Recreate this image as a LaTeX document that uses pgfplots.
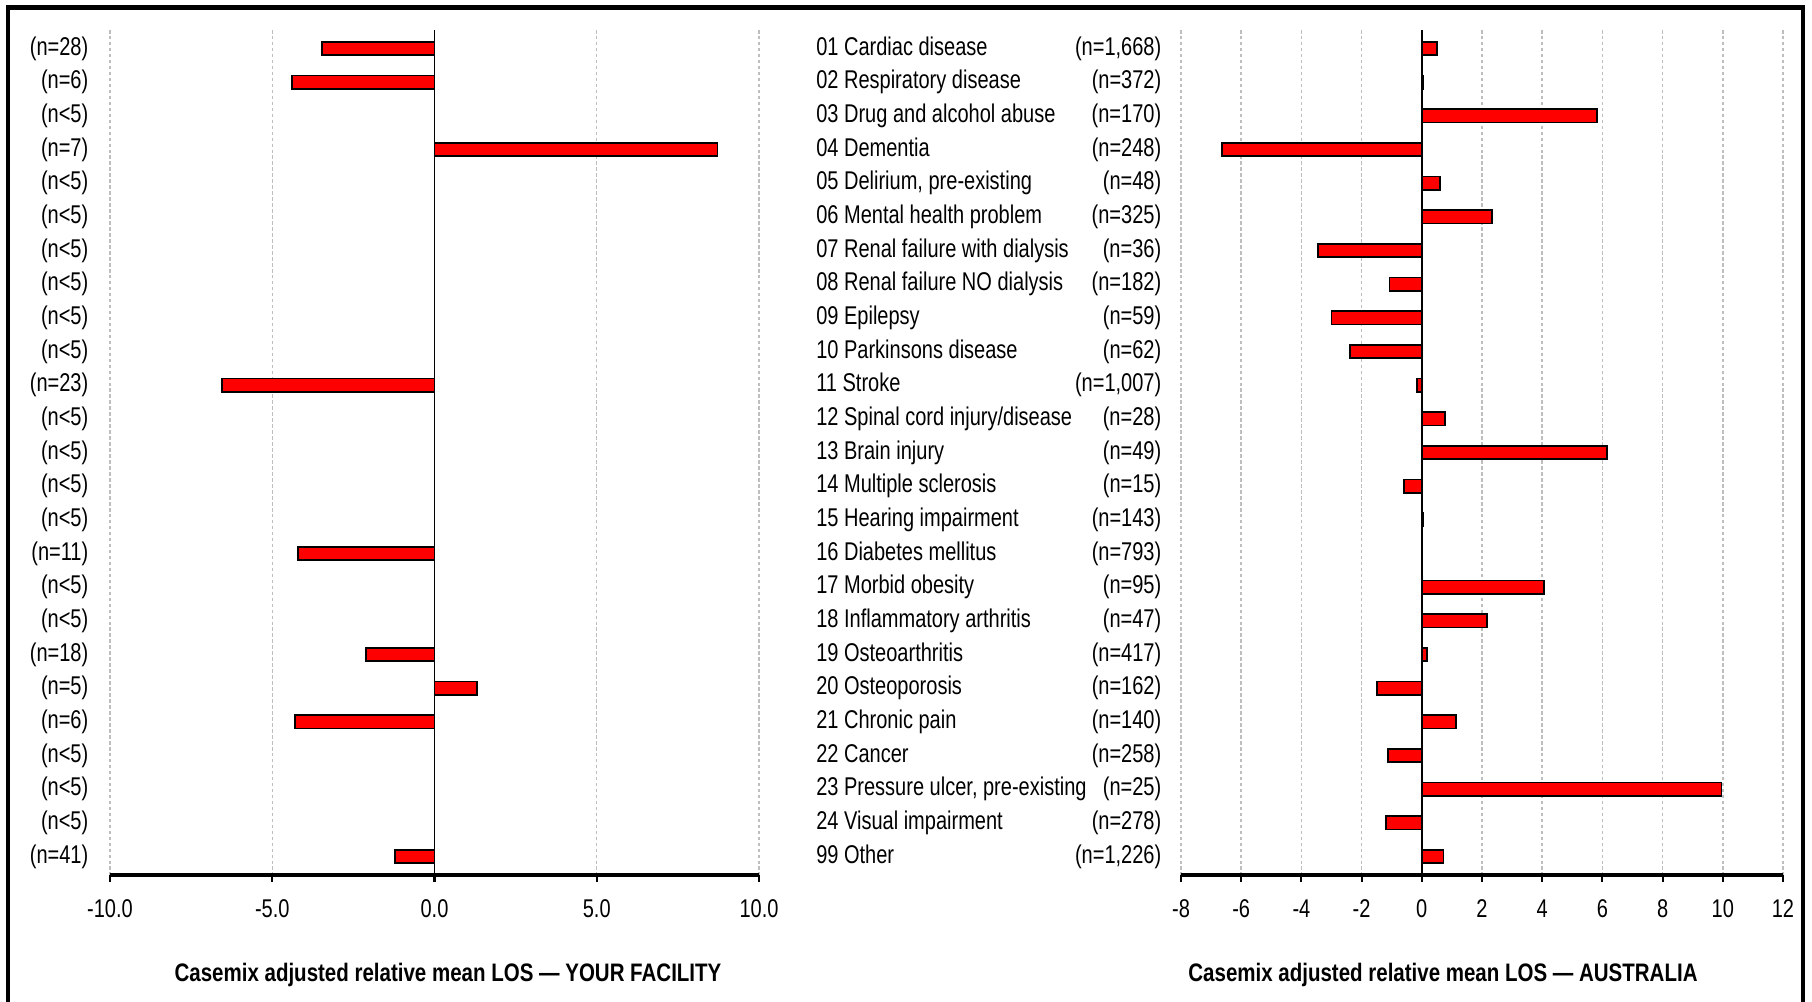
\documentclass[border=0pt]{standalone}
\usepackage{pgfplots}
\pgfplotsset{compat=1.18}
\usepackage{fontspec}
\setmainfont[FakeStretch=0.78]{Liberation Sans}
\newfontfamily\titlefont[FakeStretch=0.81]{Liberation Sans}

\definecolor{gridgray}{RGB}{190,190,190}
\definecolor{barred}{RGB}{255,0,0}
% name left, n right, in one box
\newcommand{\lab}[2]{\makebox[34.5mm]{#1\hfill(n=#2)}}

\pgfplotsset{
  panel/.style={
    scale only axis, height=84.5mm, anchor=south west,
    y dir=reverse, ymin=0.45, ymax=25.55, ytick={1,...,25},
    axis x line*=bottom, axis y line*=left,
    x axis line style={-, line width=0.9pt},
    y axis line style={draw=none},
    tick align=outside, major tick length=0.7mm,
    ytick style={draw=none},
    xtick style={black, line width=0.6pt},
    xmajorgrids,
    grid style={gridgray, dash pattern=on 1pt off 0.7pt, line width=0.4pt},
    tick label style={font=\fontsize{7.3}{8}\selectfont},
    /pgf/number format/assume math mode=true,
    yticklabel style={anchor=east, inner sep=0pt},
    xticklabel style={inner sep=0pt, yshift=-1.7mm},
    xbar, bar width=1.33mm,
    clip=false,
  },
  bars/.style={fill=barred, draw=black, line width=0.5pt},
}

\begin{document}
\begin{tikzpicture}
\path[use as bounding box] (0,0) rectangle (181.2mm,-100.2mm);

% YOUR FACILITY
\begin{axis}[panel, at={(11mm,-87.5mm)}, width=64.9mm,
  xmin=-10, xmax=10, xtick={-10,-5,0,5,10},
  xticklabel style={/pgf/number format/.cd, fixed, fixed zerofill, precision=1},
  yticklabel style={xshift=-1.4mm},
  yticklabels={(n=28),(n=6),(n<5),(n=7),(n<5),(n<5),(n<5),(n<5),(n<5),(n<5),
    (n=23),(n<5),(n<5),(n<5),(n<5),(n=11),(n<5),(n<5),(n=18),(n=5),
    (n=6),(n<5),(n<5),(n<5),(n=41)},
]
\addplot[bars] coordinates {(-3.47,1) (-4.38,2) (8.72,4) (-6.54,11) (-4.21,16)
  (-2.12,19) (1.31,20) (-4.31,21) (-1.21,25)};
\draw[black, line width=0.5pt] (axis cs:0,0.45) -- (axis cs:0,25.55);
\end{axis}

% AUSTRALIA
\begin{axis}[panel, at={(118.1mm,-87.5mm)}, width=60.2mm,
  xmin=-8, xmax=12, xtick={-8,-6,...,12},
  yticklabel style={xshift=-1.2mm},
  yticklabels={
    {\lab{01 Cardiac disease}{1,668}},
    {\lab{02 Respiratory disease}{372}},
    {\lab{03 Drug and alcohol abuse}{170}},
    {\lab{04 Dementia}{248}},
    {\lab{05 Delirium, pre-existing}{48}},
    {\lab{06 Mental health problem}{325}},
    {\lab{07 Renal failure with dialysis}{36}},
    {\lab{08 Renal failure NO dialysis}{182}},
    {\lab{09 Epilepsy}{59}},
    {\lab{10 Parkinsons disease}{62}},
    {\lab{11 Stroke}{1,007}},
    {\lab{12 Spinal cord injury/disease}{28}},
    {\lab{13 Brain injury}{49}},
    {\lab{14 Multiple sclerosis}{15}},
    {\lab{15 Hearing impairment}{143}},
    {\lab{16 Diabetes mellitus}{793}},
    {\lab{17 Morbid obesity}{95}},
    {\lab{18 Inflammatory arthritis}{47}},
    {\lab{19 Osteoarthritis}{417}},
    {\lab{20 Osteoporosis}{162}},
    {\lab{21 Chronic pain}{140}},
    {\lab{22 Cancer}{258}},
    {\lab{23 Pressure ulcer, pre-existing}{25}},
    {\lab{24 Visual impairment}{278}},
    {\lab{99 Other}{1,226}}},
]
\addplot[bars] coordinates {(0.50,1) (0.06,2) (5.82,3) (-6.65,4) (0.61,5)
  (2.32,6) (-3.44,7) (-1.07,8) (-3.00,9) (-2.39,10) (-0.15,11) (0.77,12)
  (6.15,13) (-0.59,14) (0.06,15) (4.05,17) (2.17,18) (0.17,19) (-1.49,20)
  (1.14,21) (-1.12,22) (9.96,23) (-1.20,24) (0.72,25)};
\draw[black, line width=0.5pt] (axis cs:0,0.45) -- (axis cs:0,25.55);
\end{axis}

\node[font=\titlefont\fontsize{7.2}{8}\selectfont\bfseries] at (44.8mm,-97.5mm)
  {Casemix adjusted relative mean LOS — YOUR FACILITY};
\node[font=\titlefont\fontsize{7.2}{8}\selectfont\bfseries] at (144.3mm,-97.5mm)
  {Casemix adjusted relative mean LOS — AUSTRALIA};

% outer frame, open at the bottom
\draw[line width=1.4pt] (0.8mm,-100.2mm) -- (0.8mm,-0.75mm) -- (180.3mm,-0.75mm) -- (180.3mm,-100.2mm);
\end{tikzpicture}
\end{document}
